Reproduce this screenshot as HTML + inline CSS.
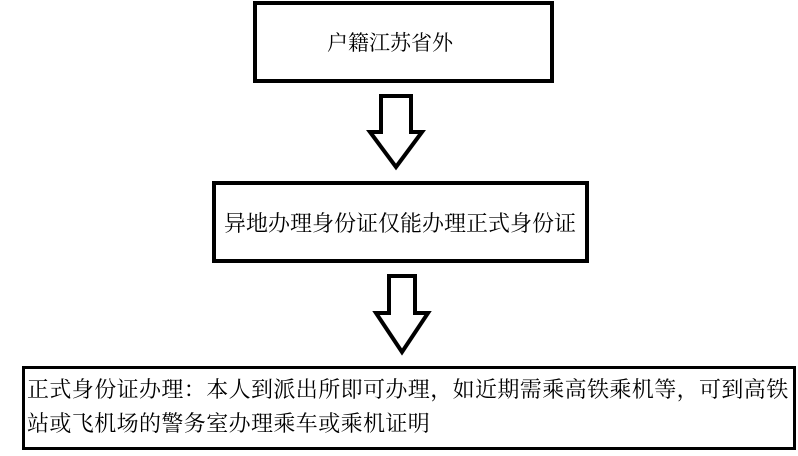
<!DOCTYPE html>
<html><head><meta charset="utf-8"><style>
html,body{margin:0;padding:0;background:#fff;width:798px;height:456px;overflow:hidden;position:relative;font-family:"Liberation Serif","Noto Serif CJK SC","Noto Sans CJK SC",serif;color:#000}
.b{position:absolute;border:4px solid #000;box-sizing:border-box;background:#fff}
.t{position:absolute;font-size:22px;line-height:24px;white-space:nowrap}
</style></head><body>
<div class="b" style="left:253px;top:1px;width:301px;height:82px"></div>
<div class="t" style="left:327px;top:31px;font-size:21px">户籍江苏省外</div>
<div class="b" style="left:212px;top:181px;width:377px;height:82px"></div>
<div class="t" style="left:224px;top:212px">异地办理身份证仅能办理正式身份证</div>
<div class="b" style="left:22px;top:366px;width:774px;height:84px;border-width:3px"></div>
<div class="t" style="left:27px;top:378px;letter-spacing:0.4px">正式身份证办理：本人到派出所即可办理，如近期需乘高铁乘机等，可到高铁</div>
<div class="t" style="left:27px;top:412px;letter-spacing:0.4px">站或飞机场的警务室办理乘车或乘机证明</div>
<svg width="798" height="456" style="position:absolute;left:0;top:0">
<polygon points="381,96 411,96 411,132 422,132 396,167 370,132 381,132" fill="#fff" stroke="#000" stroke-width="4" stroke-linejoin="miter"/>
<polygon points="389,276 415,276 415,313 428,313 402,352 376,313 389,313" fill="#fff" stroke="#000" stroke-width="4" stroke-linejoin="miter"/>
</svg>
</body></html>
